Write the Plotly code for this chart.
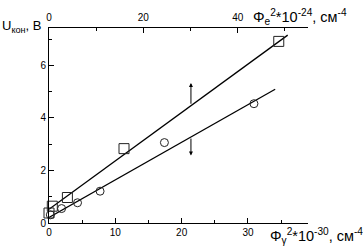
import plotly.graph_objects as go

# --- data ---
# squares: plotted against the top axis (Phi_e^2 * 1e-24)
sq_x = [0.0, 0.7, 3.9, 15.9, 48.7]
sq_y = [0.38, 0.64, 0.97, 2.83, 6.91]
# circles: plotted against the bottom axis (Phi_gamma^2 * 1e-30)
circ_x = [0.2, 1.9, 4.3, 7.7, 17.4, 30.9]
circ_y = [0.31, 0.55, 0.77, 1.21, 3.06, 4.54]
# fitted lines
fit_top_x = [0.0, 50.6]
fit_top_y = [0.52, 7.15]
fit_bot_x = [0.0, 34.1]
fit_bot_y = [0.21, 5.09]
# arrows (bottom-axis x, tail y, head y)
arrow_x = [21.4, 21.4]
arrow_tail_y = [4.48, 3.27]
arrow_head_y = [5.33, 2.57]

x_range = [0, 39.05]
x2_range = [0, 54.9]
y_range = [0, 7.42]

FONT = "Arial, Liberation Sans, sans-serif"
L, R, T, B = 49, 308, 28, 225
W, H = 363, 250


def px(xpix):
    return (xpix - L) / (R - L)


def py(ypix):
    return (B - ypix) / (B - T)


fig = go.Figure()
fig.add_trace(go.Scatter(x=fit_bot_x, y=fit_bot_y, mode="lines",
                         line=dict(color="black", width=1.3), xaxis="x", yaxis="y",
                         showlegend=False))
fig.add_trace(go.Scatter(x=fit_top_x, y=fit_top_y, mode="lines",
                         line=dict(color="black", width=1.3), xaxis="x2", yaxis="y",
                         showlegend=False))
fig.add_trace(go.Scatter(x=circ_x, y=circ_y, mode="markers", cliponaxis=False,
                         marker=dict(symbol="circle-open", size=8, color="#222",
                                     line=dict(width=1)),
                         xaxis="x", yaxis="y", showlegend=False))
fig.add_trace(go.Scatter(x=sq_x, y=sq_y, mode="markers", cliponaxis=False,
                         marker=dict(symbol="square-open", size=10, color="#222",
                                     line=dict(width=1)),
                         xaxis="x2", yaxis="y", showlegend=False))

tickfont = dict(family=FONT, size=10, color="black")
common = dict(showline=True, linecolor="black", linewidth=1, ticks="inside",
              tickcolor="black", tickwidth=1, showgrid=False, zeroline=False,
              tickfont=tickfont)

annotations = []
for xa, ta, ha in zip(arrow_x, arrow_tail_y, arrow_head_y):
    annotations.append(dict(x=xa, y=ha, ax=xa, ay=ta, xref="x", yref="y",
                            axref="x", ayref="y", text="", showarrow=True,
                            arrowhead=2, arrowsize=0.8, arrowwidth=1,
                            arrowcolor="black"))

annotations.append(dict(text="U<sub>кон</sub>, В", xref="paper", yref="paper",
                        x=px(0), y=py(26), xanchor="left", yanchor="middle",
                        showarrow=False, font=dict(family=FONT, size=13, color="black")))
annotations.append(dict(text="Φ<sub>e</sub><sup>2</sup>*10<sup>-24</sup>, см<sup>-4</sup>",
                        xref="paper", yref="paper", x=px(251), y=py(17),
                        xanchor="left", yanchor="middle", showarrow=False,
                        font=dict(family=FONT, size=14.5, color="black")))
annotations.append(dict(text="Φ<sub>γ</sub><sup>2</sup>*10<sup>-30</sup>, см<sup>-4</sup>",
                        xref="paper", yref="paper", x=px(268), y=py(238),
                        xanchor="left", yanchor="middle", showarrow=False,
                        font=dict(family=FONT, size=14.5, color="black")))

fig.update_layout(
    width=W, height=H,
    margin=dict(l=L, r=W - R, t=T, b=H - B, pad=0),
    paper_bgcolor="white", plot_bgcolor="white",
    xaxis=dict(range=x_range, dtick=10, tick0=0, ticklen=5,
               minor=dict(dtick=5, ticklen=3, ticks="inside", tickcolor="black"),
               anchor="y", side="bottom", **common),
    xaxis2=dict(range=x2_range, dtick=20, tick0=0, ticklen=5, ticklabelstandoff=2,
                minor=dict(dtick=10, ticklen=3, ticks="inside", tickcolor="black"),
                overlaying="x", anchor="y", side="top", **common),
    yaxis=dict(range=y_range, dtick=2, tick0=0, ticklen=5,
               minor=dict(dtick=1, ticklen=3, ticks="inside", tickcolor="black"),
               anchor="x", side="left", **common),
    yaxis2=dict(range=y_range, dtick=1, tick0=0, ticklen=3, showticklabels=False,
                overlaying="y", anchor="x", side="right", **common),
    annotations=annotations,
)

fig.write_html("out.html")
